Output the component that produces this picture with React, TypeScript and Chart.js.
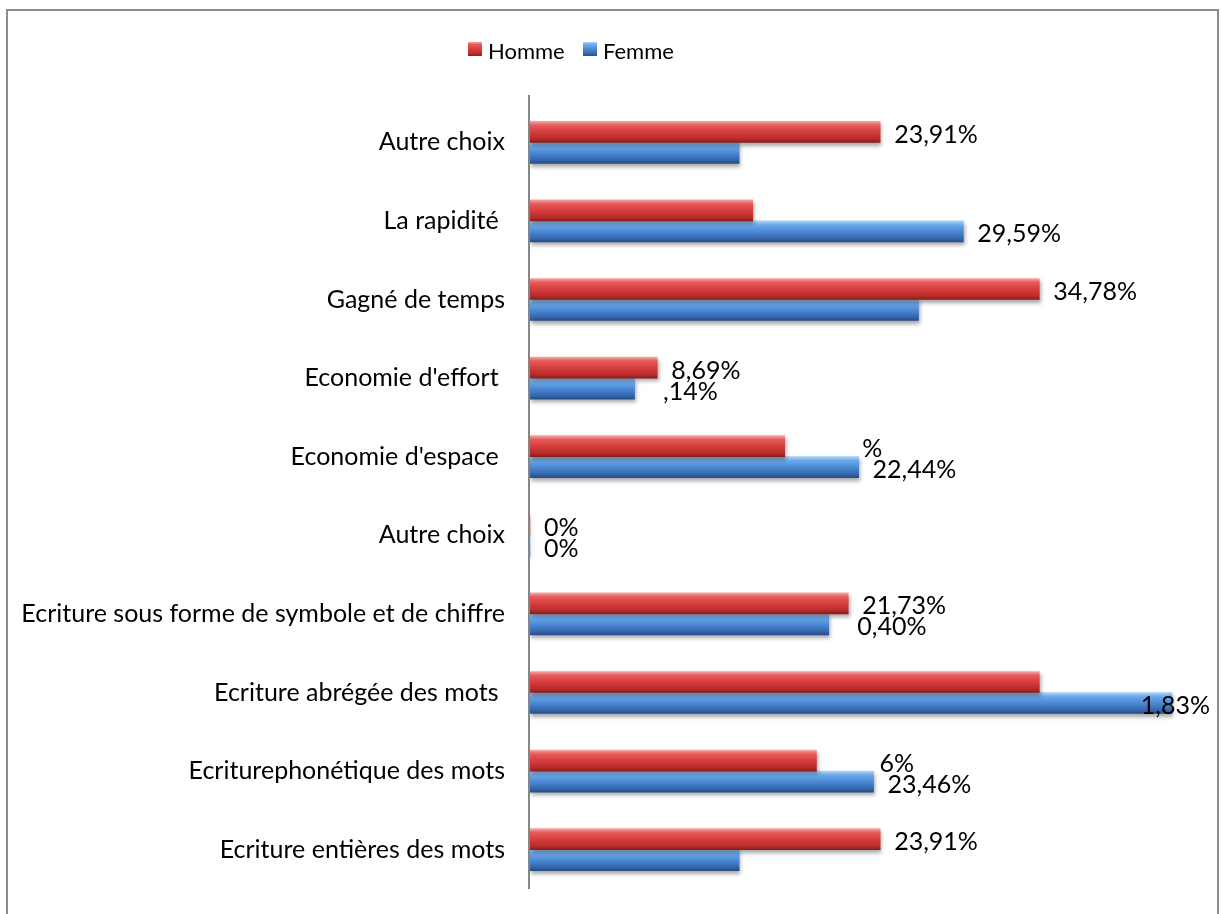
import React, { useEffect, useRef } from "react";
import { Chart, registerables } from "chart.js";

Chart.register(...registerables);

const categories = [
  "Autre choix",
  "La rapidité ",
  "Gagné de temps",
  "Economie d'effort ",
  "Economie d'espace ",
  "Autre choix",
  "Ecriture sous forme de symbole et de chiffre",
  "Ecriture abrégée des mots ",
  "Ecriturephonétique des mots",
  "Ecriture entières des mots",
];

const hommeValues = [23.91, 15.21, 34.78, 8.69, 17.39, 0, 21.73, 34.78, 19.56, 23.91];
const femmeValues = [14.28, 29.59, 26.53, 7.14, 22.44, 0, 20.4, 43.83, 23.46, 14.28];

// visible label text as seen on the chart (some partially hidden in the original)
const hommeLabels = ["23,91%", "", "34,78%", "8,69%", "%", "0%", "21,73%", "", "6%", "23,91%"];
const femmeLabels = ["", "29,59%", "", ",14%", "22,44%", "0%", "0,40%", "1,83%", "23,46%", ""];

const seriesNames = ["Homme", "Femme"];

const FONT = "Lato, 'Open Sans', sans-serif";
const FS = 25;
const LEGEND_FS = 22;
const BAR = 21;

const redStops: [number, string][] = [
  [0, "#f6a4a4"],
  [0.18, "#e65c5c"],
  [0.5, "#d73d3d"],
  [0.82, "#bb2c2c"],
  [1, "#8a1c1c"],
];
const blueStops: [number, string][] = [
  [0, "#aad2f6"],
  [0.18, "#6eaaea"],
  [0.5, "#4b89d6"],
  [0.82, "#3668ae"],
  [1, "#274d86"],
];

function barGradient(ctx: any, stops: [number, string][], dsIndex: number) {
  const chart = ctx.chart;
  const yScale = chart.scales?.y;
  if (!yScale || ctx.dataIndex === undefined) return stops[2][1];
  const c = yScale.getPixelForValue(ctx.dataIndex);
  if (!isFinite(c)) return stops[2][1];
  const y0 = dsIndex === 0 ? c - BAR : c;
  const g = chart.ctx.createLinearGradient(0, y0, 0, y0 + BAR);
  stops.forEach(([o, col]) => g.addColorStop(o, col));
  return g;
}

function fmt(v: number) {
  if (v === 0) return "0%";
  return v.toFixed(2).replace(".", ",") + "%";
}

const shadowPlugin = {
  id: "barShadow",
  beforeDatasetsDraw(chart: any) {
    const ctx = chart.ctx;
    ctx.save();
    ctx.shadowColor = "rgba(0,0,0,0.35)";
    ctx.shadowBlur = 4;
    ctx.shadowOffsetY = 3;
    ctx.shadowOffsetX = 1;
  },
  afterDatasetsDraw(chart: any) {
    chart.ctx.restore();
  },
};

const labelPlugin = {
  id: "valueLabels",
  afterDraw(chart: any) {
    const ctx = chart.ctx;
    const area = chart.chartArea;
    ctx.save();
    // vertical axis line
    ctx.strokeStyle = "#868686";
    ctx.lineWidth = 2;
    ctx.beginPath();
    ctx.moveTo(area.left - 1, area.top - 8);
    ctx.lineTo(area.left - 1, area.bottom);
    ctx.stroke();

    const lists = [hommeLabels, femmeLabels];
    const vals = [hommeValues, femmeValues];
    ctx.font = `${FS}px ${FONT}`;
    ctx.fillStyle = "#000";
    ctx.textBaseline = "middle";
    ctx.textAlign = "left";
    const maxRight = chart.width - 11;
    lists.forEach((labels, di) => {
      const meta = chart.getDatasetMeta(di);
      meta.data.forEach((el: any, i: number) => {
        const txt = labels[i];
        if (!txt) return;
        const full = fmt(vals[di][i]);
        let right = el.x + 14 + ctx.measureText(full).width;
        if (right > maxRight) right = maxRight;
        const x = right - ctx.measureText(txt).width;
        ctx.fillText(txt, x, el.y + 3);
      });
    });

    // legend
    ctx.font = `${LEGEND_FS}px ${FONT}`;
    const items = [
      { name: seriesNames[0], x: 468, stops: redStops },
      { name: seriesNames[1], x: 583, stops: blueStops },
    ];
    items.forEach((it) => {
      const g = ctx.createLinearGradient(0, 42, 0, 56);
      it.stops.forEach(([o, col]: [number, string]) => g.addColorStop(o, col));
      ctx.fillStyle = g;
      ctx.fillRect(it.x, 42, 14, 14);
      ctx.fillStyle = "#000";
      ctx.fillText(it.name, it.x + 20, 52);
    });
    ctx.restore();
  },
};

export default function App() {
  const ref = useRef<HTMLCanvasElement | null>(null);

  useEffect(() => {
    if (!ref.current) return;
    const chart = new Chart(ref.current, {
      type: "bar",
      data: {
        labels: categories,
        datasets: [
          {
            label: seriesNames[0],
            data: hommeValues,
            backgroundColor: (c: any) => barGradient(c, redStops, 0),
            barThickness: BAR,
          },
          {
            label: seriesNames[1],
            data: femmeValues,
            backgroundColor: (c: any) => barGradient(c, blueStops, 1),
            barThickness: BAR,
          },
        ],
      },
      options: {
        indexAxis: "y",
        animation: false,
        responsive: false,
        maintainAspectRatio: false,
        layout: { padding: { top: 103, bottom: 25, right: 32, left: 0 } },
        plugins: {
          legend: { display: false },
          tooltip: { enabled: false },
        },
        scales: {
          x: { display: false, min: 0, max: 45 },
          y: {
            grid: { display: false, drawTicks: false },
            border: { display: false },
            ticks: {
              color: "#000",
              font: { family: FONT, size: FS },
              padding: 25,
              autoSkip: false,
            },
            afterFit: (scale: any) => {
              scale.width = 530;
              scale.paddingTop = 0;
              scale.paddingBottom = 0;
            },
          },
        },
      },
      plugins: [shadowPlugin, labelPlugin],
    });
    return () => chart.destroy();
  }, []);

  return (
    <div style={{ position: "fixed", left: 0, top: 0, width: 1221, height: 914, background: "#fff" }}>
      <div
        style={{
          position: "absolute",
          left: 6,
          top: 9,
          width: 1209,
          height: 1000,
          border: "2px solid #8c8c8c",
          borderBottom: "none",
        }}
      />
      <canvas ref={ref} width={1221} height={914} style={{ position: "absolute", left: 0, top: 0 }} />
    </div>
  );
}
